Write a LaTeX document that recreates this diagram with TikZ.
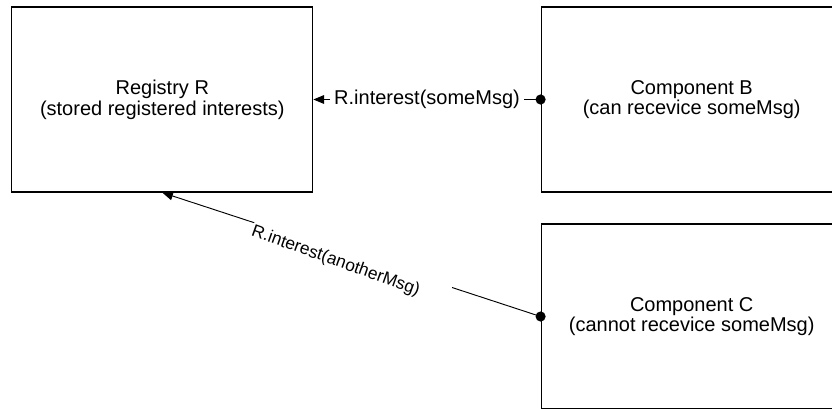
\documentclass[tikz,border=0pt]{standalone}
\usepackage{fontspec}
\setmainfont{Liberation Sans}
\usetikzlibrary{arrows.meta,calc}
\begin{document}
\begin{tikzpicture}[x=0.75pt,y=-0.75pt,
  box/.style={draw, line width=0.9pt, minimum width=225.75pt, minimum height=138.75pt,
    align=center, inner sep=0pt, font=\fontsize{15}{15.5}\selectfont},
  conn/.style={line width=0.7pt},
  tip/.style={-{Triangle[length=8pt,width=6.5pt]}},
  lbl/.style={font=\fontsize{15}{15.5}\selectfont, inner ysep=1pt, inner xsep=3pt},
  dotmark/.style={fill=black}]
\useasboundingbox (0,0) rectangle (832,408);
\clip (0,0) rectangle (832,408);

% components
\node[box] (reg)   at (162.3,99.5)  {Registry R\\(stored registered interests)};
\node[box] (compb) at (691.7,99.5)  {Component B\\(can recevice someMsg)};
\node[box] (compc) at (691.7,316.5) {Component C\\(cannot recevice someMsg)};

% B registers its interest
\node[lbl] (lab1) at ($(reg.east)!0.5!(compb.west)$) {R.interest(someMsg)};
\draw[conn,tip] (lab1.west) -- (reg.east);
\draw[conn] (compb.west) -- (lab1.east);
\fill[dotmark] (compb.west) circle[radius=3.8pt];

% C registers another interest
\path (reg.south) -- (compc.west)
  coordinate[pos=0.243] (ga)
  coordinate[pos=0.766] (gb);
\node[font=\fontsize{13}{14}\selectfont, anchor=north west, rotate=-19.6, inner sep=0.5pt]
  (lab2) at (ga) {R.interest(anotherMsg)};
\draw[conn,tip] (ga) -- (reg.south);
\draw[conn] (compc.west) -- (gb);
\fill[dotmark] (compc.west) circle[radius=3.8pt];
\end{tikzpicture}
\end{document}
